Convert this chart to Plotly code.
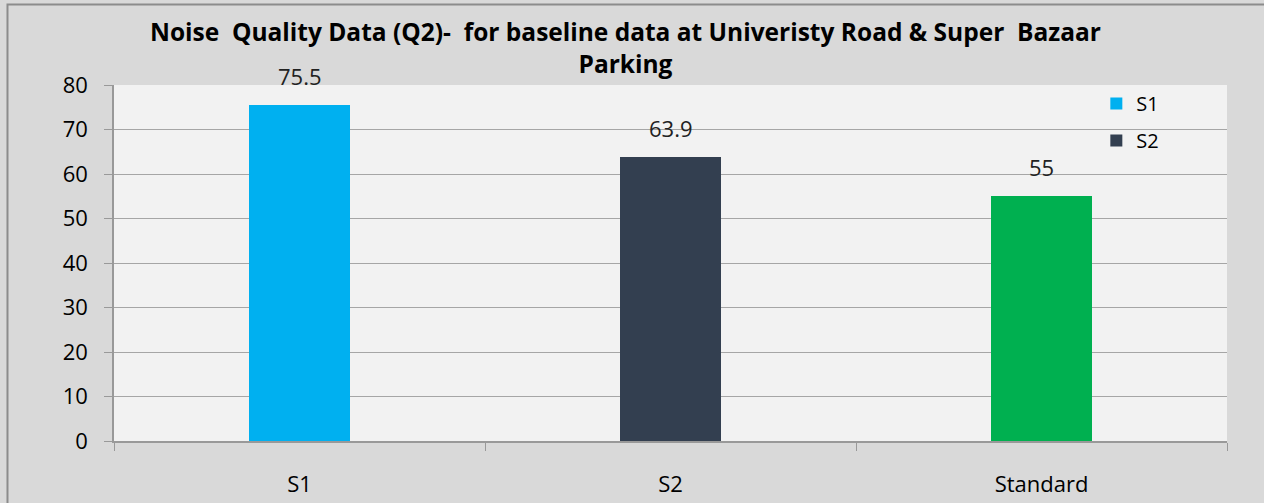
import plotly.graph_objects as go

# Noise measurements (dB) and the standard limit
categories = ["S1", "S2", "Standard"]
values = [75.5, 63.9, 55]
colors = ["#00b0f0", "#333f50", "#00b050"]
legend_shown = [True, True, False]
y_ticks = [0, 10, 20, 30, 40, 50, 60, 70, 80]

FONT = "Open Sans"
TITLE = "Noise  Quality Data (Q2)-  for baseline data at Univeristy Road &amp; Super  Bazaar<br>Parking"

fig = go.Figure()
for cat, val, col, show in zip(categories, values, colors, legend_shown):
    fig.add_trace(go.Bar(
        x=[cat], y=[val], name=cat, legendgroup=cat,
        marker=dict(color=col, line=dict(width=0)),
        width=0.27,
        showlegend=show,
    ))
    # value label above each bar
    fig.add_annotation(
        x=cat, y=val, xref="x", yref="y",
        text=f"{val:g}", showarrow=False,
        yanchor="bottom", yshift=12,
        font=dict(family=FONT, size=22, color="#222222"),
    )

fig.update_layout(
    width=1264, height=503,
    margin=dict(l=114, r=37, t=85, b=62, autoexpand=False),
    paper_bgcolor="#d9d9d9",
    plot_bgcolor="#f2f2f2",
    barmode="overlay",
    legend=dict(
        x=0.8826, y=1.003, xanchor="left", yanchor="top",
        bgcolor="rgba(0,0,0,0)",
        font=dict(family=FONT, size=20, color="#000000"),
        itemwidth=30, tracegroupgap=8,
    ),
    font=dict(family=FONT, color="#000000"),
    showlegend=True,
    bargap=0,
)

# Two-line bold chart title
fig.add_annotation(
    text=TITLE, xref="paper", yref="paper",
    x=0.46, y=1.1067, xanchor="center", yanchor="middle",
    showarrow=False, align="center",
    font=dict(family=FONT, size=24.5, color="#000000", weight="bold"),
)

fig.update_xaxes(
    type="category",
    automargin=False,
    tickson="boundaries",
    ticks="outside", ticklen=8, tickcolor="#999999",
    showline=True, linecolor="#999999", linewidth=1.5,
    showgrid=False,
    tickfont=dict(family=FONT, size=22, color="#000000"),
    ticklabelstandoff=23,
)
fig.update_yaxes(
    range=[0, 80],
    automargin=False,
    tickvals=y_ticks,
    ticks="outside", ticklen=8, tickcolor="#999999",
    showline=True, linecolor="#999999", linewidth=1.5,
    showgrid=True, gridcolor="#a6a6a6", gridwidth=1,
    zeroline=False,
    tickfont=dict(family=FONT, size=22, color="#000000"),
    ticklabelstandoff=12,
)

# Chart-area border
fig.add_shape(
    type="rect", xref="paper", yref="paper",
    x0=-0.0957, x1=1.05, y0=-0.25, y1=1.2261,
    line=dict(color="#8c8c8c", width=2), fillcolor="rgba(0,0,0,0)",
    layer="below",
)

fig.write_html("out.html")
